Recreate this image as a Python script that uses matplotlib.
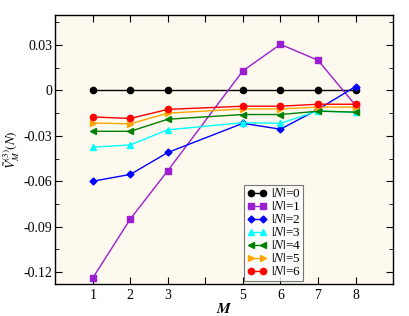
import matplotlib
matplotlib.use("Agg")
import matplotlib.pyplot as plt
from matplotlib.ticker import MultipleLocator, FixedLocator

plt.rcParams['font.family'] = ['Liberation Serif', 'DejaVu Serif']
plt.rcParams['mathtext.fontset'] = 'stix'

M = [1, 2, 3, 5, 6, 7, 8]
V_N0 = [0, 0, 0, 0, 0, 0, 0]
V_N1 = [-0.124, -0.085, -0.053, 0.013, 0.0305, 0.020, -0.0098]
V_N2 = [-0.060, -0.0555, -0.041, -0.0217, -0.0256, -0.0125, 0.0026]
V_N3 = [-0.0375, -0.036, -0.026, -0.0213, -0.0217, -0.0135, -0.0145]
V_N4 = [-0.027, -0.027, -0.019, -0.0159, -0.0159, -0.0137, -0.0143]
V_N5 = [-0.0215, -0.022, -0.015, -0.0122, -0.0122, -0.0110, -0.0110]
V_N6 = [-0.0175, -0.0185, -0.0125, -0.0104, -0.0104, -0.0091, -0.0091]

series = [V_N0, V_N1, V_N2, V_N3, V_N4, V_N5, V_N6]
labels = [r'$|\mathbf{\mathit{N}}|$=%d' % i for i in range(7)]
colors = ['black', '#9b1fd1', 'blue', 'cyan', 'green', 'orange', 'red']
markers = ['o', 's', 'D', '^', '<', '>', 'o']
msizes = [4.5, 4.3, 3.5, 4.5, 4.5, 4.5, 4.5]

xticks = [1, 2, 3, 4, 5, 6, 7, 8]
xticklabels = ['1', '2', '3', '', '5', '6', '7', '8']
yticks = [-0.12, -0.09, -0.06, -0.03, 0, 0.03]
yticklabels = ['-0.12', '-0.09', '-0.06', '-0.03', '0', '0.03']

fig = plt.figure(figsize=(4.09, 3.16), dpi=100)
ax = fig.add_axes([0.135, 0.101, 0.826, 0.852])
ax.set_facecolor('#fdf9ee')

for v, lab, c, mk, ms in zip(series, labels, colors, markers, msizes):
    ax.plot(M, v, color=c, marker=mk, markersize=ms, linewidth=1.0, label=lab)

ax.set_xlim(0, 9)
ax.set_ylim(-0.128, 0.05)
ax.xaxis.set_major_locator(FixedLocator(xticks))
ax.set_xticklabels(xticklabels)
ax.set_yticks(yticks)
ax.set_yticklabels(yticklabels)
ax.yaxis.set_minor_locator(MultipleLocator(0.015))
ax.tick_params(which='both', direction='in', top=True, right=True, labelsize=10)
ax.tick_params(axis='y', pad=2)
ax.tick_params(which='major', length=5)
ax.tick_params(which='minor', length=3)
for s in ax.spines.values():
    s.set_linewidth(1.0)

ax.set_xlabel(r'$\boldsymbol{M}$', fontsize=11, labelpad=0)
ax.set_ylabel(r'$\tilde{V}_{M}^{(3)}(N)$', fontsize=9.5)
ax.yaxis.set_label_coords(-0.097, 0.5)

leg = ax.legend(loc='lower left', bbox_to_anchor=(0.55, 0.0), numpoints=2,
                handlelength=1.5, handletextpad=0.3, labelspacing=0.0,
                borderpad=0.2, fontsize=9.5, frameon=True, fancybox=False,
                borderaxespad=0.25)
leg.get_frame().set_edgecolor('#555555')
leg.get_frame().set_linewidth(0.8)
leg.get_frame().set_facecolor('white')

fig.savefig('out.png', dpi=100)
